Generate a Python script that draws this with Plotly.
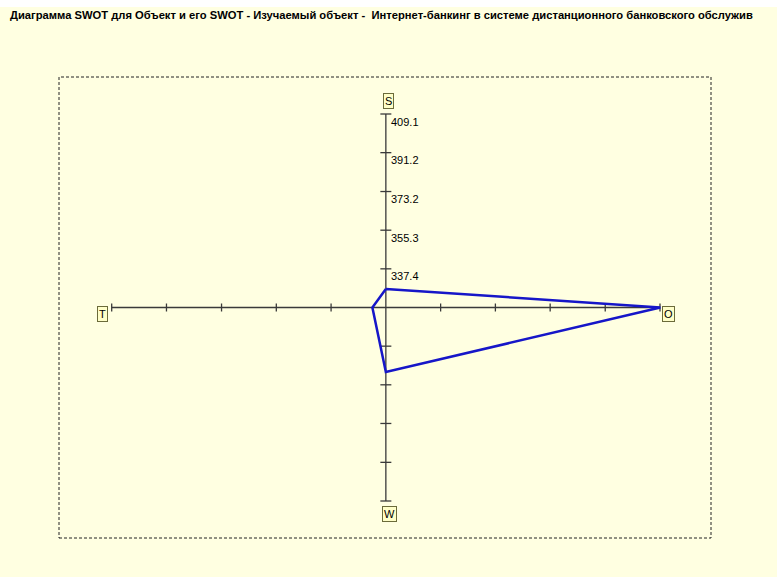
import plotly.graph_objects as go

# ---- data ----
title_text = ("Диаграмма SWOT для Объект и его SWOT - Изучаемый объект -  "
              "Интернет-банкинг в системе дистанционного банковского обслужив")
directions = ["S", "O", "W", "T"]
scores = [8.6, 89.7, 29.9, 4.4]          # distance from centre along each axis
axis_origin = 319.5
tick_values = [337.4, 355.3, 373.2, 391.2, 409.1]
tick_labels = ["337.4", "355.3", "373.2", "391.2", "409.1"]

# ---- geometry helpers ----
W, H = 777, 577
step = (tick_values[-1] - axis_origin) / len(tick_values)
offsets = [v - axis_origin for v in tick_values]
amax = offsets[-1]
cx_px, cy_px = 385.85, 307.5
px_per_x = 54.83 / step
px_per_y = 38.7 / step
x_range = [-cx_px / px_per_x, (W - cx_px) / px_per_x]
y_range = [-(H - cy_px) / px_per_y, cy_px / px_per_y]

def dx(px):
    return px / px_per_x

def dy(px):
    return px / px_per_y

bg = "#FFFFE1"
axis_col = "#3a3a3a"
poly_col = "#1616C8"

fig = go.Figure()

# axes lines
fig.add_trace(go.Scatter(x=[-amax, amax], y=[0, 0], mode="lines",
                         line=dict(color=axis_col, width=1.3), hoverinfo="skip"))
fig.add_trace(go.Scatter(x=[0, 0], y=[-amax, amax], mode="lines",
                         line=dict(color=axis_col, width=1.3), hoverinfo="skip"))

# tick marks
tx, ty = [], []
for o in offsets:
    for s in (1, -1):
        tx += [s * o, s * o, None]
        ty += [-dy(4), dy(4), None]
        tx += [-dx(5.5), dx(5.5), None]
        ty += [s * o, s * o, None]
fig.add_trace(go.Scatter(x=tx, y=ty, mode="lines",
                         line=dict(color=axis_col, width=1.3), hoverinfo="skip"))

# polygon S -> O -> W -> T -> S
vec = {"S": (0, 1), "O": (1, 0), "W": (0, -1), "T": (-1, 0)}
px_ = [vec[d][0] * v for d, v in zip(directions, scores)]
py_ = [vec[d][1] * v for d, v in zip(directions, scores)]
px_.append(px_[0]); py_.append(py_[0])
fig.add_trace(go.Scatter(x=px_, y=py_, mode="lines",
                         line=dict(color=poly_col, width=2.5), hoverinfo="skip"))

annotations = []
# tick labels on S axis
for o, lab in zip(offsets, tick_labels):
    annotations.append(dict(x=dx(3.0), y=o - dy(7.5), text=lab, showarrow=False,
                            xanchor="left", yanchor="middle",
                            font=dict(family="Liberation Sans, Arial", size=11, color="#000")))

# direction boxes
box_pos = {"S": (2.2, 206.5), "O": (282.2, -6.5), "W": (3.9, -206.5), "T": (-283.2, -6)}
for d in ["S", "O", "W", "T"]:
    bx, by = box_pos[d]
    annotations.append(dict(x=dx(bx), y=dy(by), text=d, showarrow=False,
                            xanchor="center", yanchor="middle",
                            bgcolor="#FFFFC8", bordercolor="#6b6b3a", borderwidth=1, borderpad=1,
                            font=dict(family="Liberation Sans, Arial", size=11, color="#000")))

# title
annotations.append(dict(x=8 / W, y=1 - 15 / H, xref="paper", yref="paper", text="<b>" + title_text + "</b>",
                        showarrow=False, xanchor="left", yanchor="middle",
                        font=dict(family="Liberation Sans, Arial", size=11.2, color="#000")))

shapes = [
    dict(type="rect", xref="paper", yref="paper", x0=0, x1=1, y0=1 - 7 / H, y1=1,
         fillcolor="#FFFFFF", line=dict(width=0), layer="below"),
    dict(type="rect", xref="paper", yref="paper", x0=59 / W, x1=711 / W,
         y0=1 - 538 / H, y1=1 - 77 / H, line=dict(color="#222222", width=1, dash="3px,2px")),
]

fig.update_layout(
    width=W, height=H, autosize=False,
    margin=dict(l=0, r=0, t=0, b=0),
    paper_bgcolor=bg, plot_bgcolor=bg,
    showlegend=False,
    xaxis=dict(range=x_range, visible=False, fixedrange=True),
    yaxis=dict(range=y_range, visible=False, fixedrange=True),
    annotations=annotations, shapes=shapes,
)

fig.write_html("out.html", config={"displayModeBar": False})

# remove default page margin so the figure sits at the window's top-left corner
with open("out.html", encoding="utf-8") as f:
    html = f.read()
html = html.replace("<head>", "<head><style>html,body{margin:0;padding:0;overflow:hidden;}</style>", 1)
with open("out.html", "w", encoding="utf-8") as f:
    f.write(html)
